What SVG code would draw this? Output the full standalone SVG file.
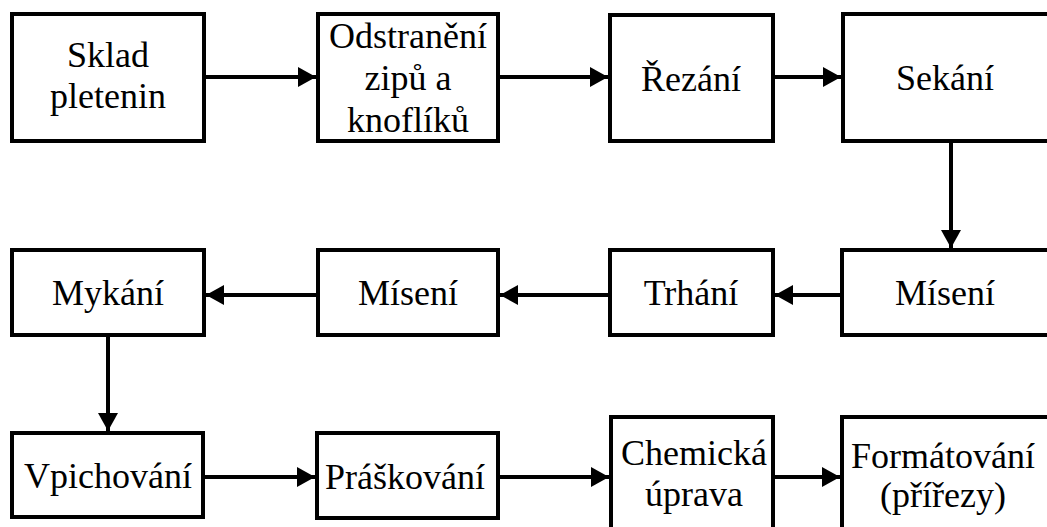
<svg xmlns="http://www.w3.org/2000/svg" width="1047" height="527" viewBox="0 0 1047 527">
  <style>
    .box { fill: #ffffff; stroke: #000000; stroke-width: 4; }
    .edge { fill: none; stroke: #000000; stroke-width: 4; marker-end: url(#head); }
  </style>
  <defs>
    <marker id="head" viewBox="0 0 18 20" refX="18" refY="10" markerWidth="18" markerHeight="20" markerUnits="userSpaceOnUse" orient="auto">
      <path d="M0,0 L18,10 L0,20 Z" fill="#000000"/>
    </marker>
  </defs>
  <rect width="1047" height="527" fill="#ffffff"/>

  <!-- connectors -->
  <g id="connectors">
    <path class="edge" d="M206,77 L316,77"/>
    <path class="edge" d="M500,77 L608,77"/>
    <path class="edge" d="M775,77 L841,77"/>
    <path class="edge" d="M951,143 L951,248"/>
    <path class="edge" d="M841,295 L775,295"/>
    <path class="edge" d="M608,295 L500,295"/>
    <path class="edge" d="M316,295 L206,295"/>
    <path class="edge" d="M108,337 L108,431"/>
    <path class="edge" d="M205,477 L315,477"/>
    <path class="edge" d="M500,477 L609,477"/>
    <path class="edge" d="M775,477 L840,477"/>
  </g>

  <!-- process steps; all labels share one serif face -->
  <g font-family="Liberation Serif, serif" font-size="36" fill="#000000" text-anchor="middle">
    <!-- row 1 -->
    <g id="sklad">
      <rect class="box" x="12" y="14" width="192" height="127"/>
      <text x="108" y="67">Sklad</text>
      <text x="108" y="108">pletenin</text>
    </g>
    <g id="odstraneni">
      <rect class="box" x="318" y="14" width="180" height="127"/>
      <text x="408" y="48">Odstranění</text>
      <text x="408" y="90">zipů a</text>
      <text x="408" y="132">knoflíků</text>
    </g>
    <g id="rezani">
      <rect class="box" x="610" y="15" width="163" height="126"/>
      <text x="691" y="91">Řezání</text>
    </g>
    <g id="sekani">
      <rect class="box" x="843" y="14" width="206" height="127"/>
      <text x="945" y="90">Sekání</text>
    </g>

    <!-- row 2 -->
    <g id="mykani">
      <rect class="box" x="12" y="250" width="192" height="85"/>
      <text x="108" y="305">Mykání</text>
    </g>
    <g id="miseni-2">
      <rect class="box" x="318" y="250" width="180" height="85"/>
      <text x="408" y="305">Mísení</text>
    </g>
    <g id="trhani">
      <rect class="box" x="610" y="250" width="163" height="85"/>
      <text x="691" y="305">Trhání</text>
    </g>
    <g id="miseni-1">
      <rect class="box" x="842" y="250" width="207" height="85"/>
      <text x="945" y="305">Mísení</text>
    </g>

    <!-- row 3 -->
    <g id="vpichovani">
      <rect class="box" x="12" y="433" width="191" height="84"/>
      <text x="108" y="488">Vpichování</text>
    </g>
    <g id="praskovani">
      <rect class="box" x="317" y="433" width="181" height="85"/>
      <text x="405" y="489">Práškování</text>
    </g>
    <g id="chemicka-uprava">
      <rect class="box" x="611" y="417" width="162" height="120"/>
      <text x="694" y="465">Chemická</text>
      <text x="694" y="506">úprava</text>
    </g>
    <g id="formatovani">
      <rect class="box" x="842" y="417" width="207" height="120"/>
      <text x="943" y="468">Formátování</text>
      <text x="943" y="507">(přířezy)</text>
    </g>
  </g>
</svg>
